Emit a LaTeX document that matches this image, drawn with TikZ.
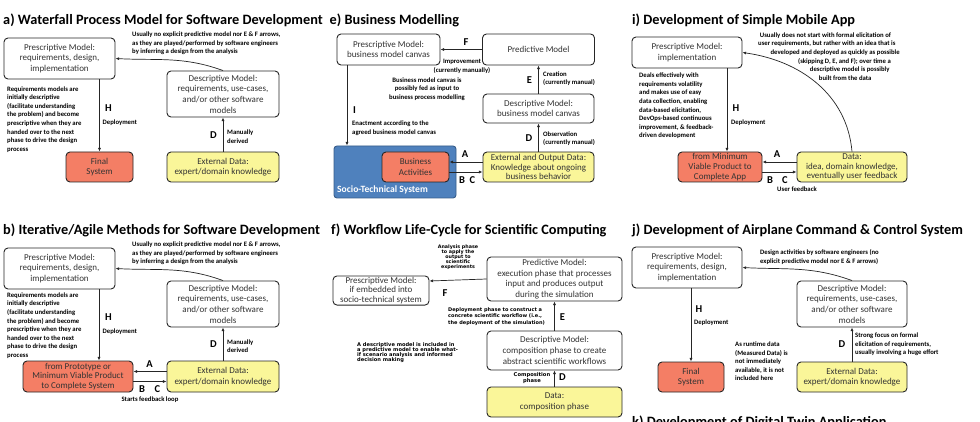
\documentclass[tikz,border=0pt]{standalone}
\usepackage{fontspec}
\setmainfont{Carlito}
\newfontfamily\smallsans{DejaVu Sans}
\usepackage{xcolor}
\definecolor{sysRed}{HTML}{F47E65}
\definecolor{dataYellow}{HTML}{FAF699}
\definecolor{stsBlue}{HTML}{4F81BD}
\definecolor{stsDark}{HTML}{385D8A}
\definecolor{boxLine}{HTML}{262626}
\usetikzlibrary{arrows.meta,positioning,calc}
\tikzset{
  mbox/.style={
    rectangle,draw=boxLine,fill=white,
    rounded corners=4pt,line width=0.9pt,
    align=center,inner sep=1pt,text=black!80,
    font=\fontsize{9}{10.7}\selectfont
  },
  wh/.style 2 args={minimum width=#1pt,minimum height=#2pt},
  tight/.style={font=\fontsize{9}{9.7}\selectfont},
  sysbox/.style={mbox,fill=sysRed},
  databox/.style={mbox,fill=dataYellow},
  stsbox/.style={
    rectangle,rounded corners=3pt,
    draw=stsDark,fill=stsBlue,line width=0.9pt
  },
  note/.style={align=left,inner sep=0pt,font=\fontsize{6.7}{8.6}\selectfont\bfseries},
  cnote/.style={note,align=center},
  tinynote/.style={align=left,inner sep=0pt,font=\smallsans\bfseries},
  tag/.style={inner sep=0pt,font=\fontsize{10.5}{12}\selectfont\bfseries},
  ptitle/.style={anchor=base west,inner sep=0pt,font=\fontsize{14.3}{16}\selectfont\bfseries},
  arr/.style={-{Latex[length=3.6pt,width=3pt]},line width=0.7pt,draw=black!85}
}
\begin{document}
\begin{tikzpicture}[x=1pt,y=-1pt]
\useasboundingbox (0,0) rectangle (980,422);
\clip (0,0) rectangle (980,422);
\fill[white] (0,0) rectangle (980,422);

% a) waterfall
\node[ptitle] (aTitle) at (3,25) {a) Waterfall Process Model for Software Development};
\node[mbox,wh={111}{41}] (aPre) at (59.5,58.5) {Prescriptive Model:\\requirements, design,\\implementation};
\node[mbox,wh={112}{46}] (aDesc) at (223,94) {Descriptive Model:\\requirements, use-cases,\\and/or other software\\models};
\node[sysbox,wh={67}{30}] (aSys) at (99.5,167) {Final\\System};
\node[databox,wh={112}{30}] (aData) at (223,167) {External Data:\\expert/domain knowledge};
\node[note,anchor=west] (aNoteTop) at (132,43.5) {Usually no explicit predictive model nor E \& F arrows,\\as they are played/performed by software engineers\\by inferring a design from the analysis};
\node[note,anchor=west] (aNoteReq) at (7,119.4) {Requirements models are\\initially descriptive\\(facilitate understanding\\the problem) and become\\prescriptive when they are\\handed over to the next\\phase to drive the design\\process};
\node[tag] (aH) at (108.5,108) {H};
\node[note,anchor=west] (aDep) at (102.5,123) {Deployment};
\node[tag] (aD) at (213.5,135) {D};
\node[note,anchor=west] (aMan) at (227,136.5) {Manually\\derived};
\draw[arr] (aDesc.north) to[out=160,in=-3] (aPre.east);
\draw[arr] (aPre.south -| aSys.north) -- (aSys.north);
\draw[arr] (aData.north) -- (aDesc.south);

% b) iterative / agile
\node[ptitle] (bTitle) at (3,235) {b) Iterative/Agile Methods for Software Development};
\node[mbox,wh={111}{41}] (bPre) at (59.5,268.5) {Prescriptive Model:\\requirements, design,\\implementation};
\node[mbox,wh={112}{46}] (bDesc) at (223,304) {Descriptive Model:\\requirements, use-cases,\\and/or other software\\models};
\node[sysbox,tight,wh={110}{31}] (bSys) at (78,376.5) {from Prototype or\\Minimum Viable Product\\to Complete System};
\node[databox,wh={112}{31}] (bData) at (223,376.5) {External Data:\\expert/domain knowledge};
\node[note,anchor=west] (bNoteTop) at (132,253.5) {Usually no explicit predictive model nor E \& F arrows,\\as they are played/performed by software engineers\\by inferring a design from the analysis};
\node[note,anchor=west] (bNoteReq) at (7,325.5) {Requirements models are\\initially descriptive\\(facilitate understanding\\the problem) and become\\prescriptive when they are\\handed over to the next\\phase to drive the design\\process};
\node[tag] (bH) at (108.5,317) {H};
\node[note,anchor=west] (bDep) at (102.5,332) {Deployment};
\node[tag] (bD) at (213.5,344.5) {D};
\node[note,anchor=west] (bMan) at (227,346) {Manually\\derived};
\node[tag] (bA) at (149.5,364) {A};
\node[tag] (bB) at (142,389) {B};
\node[tag] (bC) at (157.5,389) {C};
\node[cnote] (bLoop) at (150,400) {Starts feedback loop};
\draw[arr] (bDesc.north) to[out=160,in=-3] (bPre.east);
\draw[arr] ([xshift=39.5pt]bPre.south) -- ([xshift=21pt]bSys.north);
\draw[arr] (bData.north) -- (bDesc.south);
\draw[arr] ([yshift=5pt]bData.west) -- ([yshift=5pt]bSys.east);
\draw[arr] ([yshift=-5pt]bSys.east) -- ([yshift=-5pt]bData.west);

% e) business modelling
\node[ptitle] (eTitle) at (329.5,25) {e) Business Modelling};
\node[mbox,wh={103}{31}] (ePre) at (388.5,49.5) {Prescriptive Model:\\business model canvas};
\node[mbox,wh={112}{31}] (ePred) at (538.5,49.5) {Predictive Model};
\node[mbox,wh={111}{29}] (eDesc) at (538.5,108.5) {Descriptive Model:\\business model canvas};
\node[stsbox,wh={122}{52}] (eSTS) at (395,172) {};
\node[sysbox,wh={67}{30}] (eBA) at (415.5,167) {Business\\Activities};
\node[databox,tight,wh={111}{30}] (eData) at (538.5,167) {External and Output Data:\\Knowledge about ongoing\\business behavior};
\node[anchor=west,inner sep=0pt,text=white,font=\fontsize{9.6}{11}\selectfont\bfseries] (eSTSlabel) at (337,190) {Socio-Technical System};
\node[tag] (eF) at (466,42) {F};
\node[cnote] (eImp) at (462,66.3) {Improvement\\(currently manually)};
\node[tag] (eE) at (529.5,80) {E};
\node[note,anchor=west] (eCre) at (543,78.7) {Creation\\(currently manual)};
\node[cnote] (eMid) at (427,89) {Business model canvas is\\possibly fed as input to\\business process modelling};
\node[tag] (eI) at (354.5,110) {I};
\node[note,anchor=west] (eEna) at (352,128.5) {Enactment according to the\\agreed business model canvas};
\node[tag] (eD) at (529,138) {D};
\node[note,anchor=west] (eObs) at (543,138.5) {Observation\\(currently manual)};
\node[tag] (eA) at (465,154) {A};
\node[tag] (eB) at (462,180) {B};
\node[tag] (eC) at (472.5,180) {C};
\draw[arr] (ePred.west) -- (ePre.east);
\draw[arr] (eDesc.north) -- (ePred.south);
\draw[arr] (eData.north) -- (eDesc.south);
\draw[arr] ([xshift=-41.5pt]ePre.south) -- ([xshift=-41.5pt]ePre.south |- eSTS.north);
\draw[arr] ([yshift=5pt]eData.west) -- ([yshift=5pt]eBA.east);
\draw[arr] ([yshift=-5pt]eBA.east) -- ([yshift=-5pt]eData.west);

% f) scientific workflows
\node[ptitle] (fTitle) at (331,235) {f) Workflow Life-Cycle for Scientific Computing};
\node[mbox,tight,wh={96}{29}] (fPre) at (381,290.5) {Prescriptive Model:\\if embedded into\\socio-technical system};
\node[mbox,wh={135}{44}] (fPred) at (554.5,279) {Predictive Model:\\execution phase that processes\\input and produces output\\during the simulation};
\node[mbox,wh={135}{39}] (fDesc) at (554.5,350.5) {Descriptive Model:\\composition phase to create\\abstract scientific workflows};
\node[databox,wh={135}{30}] (fData) at (554.5,402) {Data:\\composition phase};
\node[tinynote,align=center,font=\smallsans\fontsize{4.8}{4.5}\selectfont\bfseries] (fAna) at (458,257) {Analysis phase\\to apply the\\output to\\scientific\\experiments};
\node[tag] (fF) at (445,293) {F};
\node[tinynote,anchor=west,font=\smallsans\fontsize{5}{6.3}\selectfont\bfseries] (fDep) at (448,316.5) {Deployment phase to construct a\\concrete scientific workflow (i.e.,\\the deployment of the simulation)};
\node[tag] (fE) at (562.5,317) {E};
\node[tinynote,anchor=west,font=\smallsans\fontsize{5.1}{5.1}\selectfont\bfseries] (fWhatIf) at (357,352.5) {A descriptive model is included in\\a predictive model to enable what-\\if scenario analysis and informed\\decision making};
\node[tinynote,align=center,font=\smallsans\fontsize{5.2}{5.7}\selectfont\bfseries] (fCom) at (532,378) {Composition\\phase};
\node[tag] (fD) at (562.5,377) {D};
\draw[arr] (fPred.west) -- ([yshift=9.5pt]fPre.east);
\draw[arr] (fDesc.north) -- (fPred.south);
\draw[arr] (fData.north) -- (fDesc.south);

% i) simple mobile app
\node[ptitle] (iTitle) at (632,25) {i) Development of Simple Mobile App};
\node[mbox,wh={110}{31}] (iPre) at (687,52.5) {Prescriptive Model:\\implementation};
\node[sysbox,tight,wh={84}{30}] (iApp) at (720,167) {from Minimum\\Viable Product to\\Complete App};
\node[databox,tight,wh={110}{30}] (iData) at (852,167) {Data:\\idea, domain knowledge,\\eventually user feedback};
\node[note,anchor=west] (iNoteTop) at (758,56.5) {\hspace*{1.7pt}Usually does not start with formal elicitation of\\user requirements, but rather with an idea that is\\\hspace*{12.4pt}developed and deployed as quickly as possible\\\hspace*{40pt}(skipping D, E, and F); over time a\\\hspace*{51.7pt}descriptive model is possibly\\\hspace*{60.7pt}built from the data};
\node[note,anchor=west] (iNoteLeft) at (639,106) {Deals effectively with\\requirements volatility\\and makes use of easy\\data collection, enabling\\data-based elicitation,\\DevOps-based continuous\\improvement, \& feedback-\\driven development};
\node[tag] (iH) at (736,108) {H};
\node[note,anchor=west] (iDep) at (731,123) {Deployment};
\node[tag] (iA) at (777,154) {A};
\node[tag] (iB) at (770,180) {B};
\node[tag] (iC) at (785,180) {C};
\node[cnote] (iFb) at (797,189) {User feedback};
\draw[arr] (iData.north) to[out=95,in=-8] (iPre.east);
\draw[arr] ([xshift=40pt]iPre.south) -- ([xshift=7pt]iApp.north);
\draw[arr] ([yshift=5pt]iData.west) -- ([yshift=5pt]iApp.east);
\draw[arr] ([yshift=-5pt]iApp.east) -- ([yshift=-5pt]iData.west);

% j) airplane command & control
\node[ptitle] (jTitle) at (632,235) {j) Development of Airplane Command \& Control System};
\node[mbox,wh={110}{41}] (jPre) at (687,267.5) {Prescriptive Model:\\requirements, design,\\implementation};
\node[mbox,wh={110}{46}] (jDesc) at (852,304) {Descriptive Model:\\requirements, use-cases,\\and/or other software\\models};
\node[sysbox,wh={66}{30}] (jSys) at (691,377) {Final\\System};
\node[databox,wh={110}{30}] (jData) at (852,377) {External Data:\\expert/domain knowledge};
\node[note,anchor=west] (jNoteTop) at (760,257) {Design activities by software engineers (no\\explicit predictive model nor E \& F arrows)};
\node[tag] (jH) at (699,309) {H};
\node[note,anchor=west] (jDep) at (694,323) {Deployment};
\node[note,anchor=west] (jNoteRun) at (735,361.4) {As runtime data\\(Measured Data) is\\not immediately\\available, it is not\\included here};
\node[tag] (jD) at (842,344) {D};
\node[note,anchor=west] (jNoteD) at (855,344.5) {Strong focus on formal\\elicitation of requirements,\\usually involving a huge effort};
\draw[arr] (jDesc.north) to[out=160,in=-3] (jPre.east);
\draw[arr] (jPre.south -| jSys.north) -- (jSys.north);
\draw[arr] (jData.north) -- (jDesc.south);

% k) cut off at the bottom
\node[ptitle] (kTitle) at (632,426) {k) Development of Digital Twin Application};
\end{tikzpicture}
\end{document}
